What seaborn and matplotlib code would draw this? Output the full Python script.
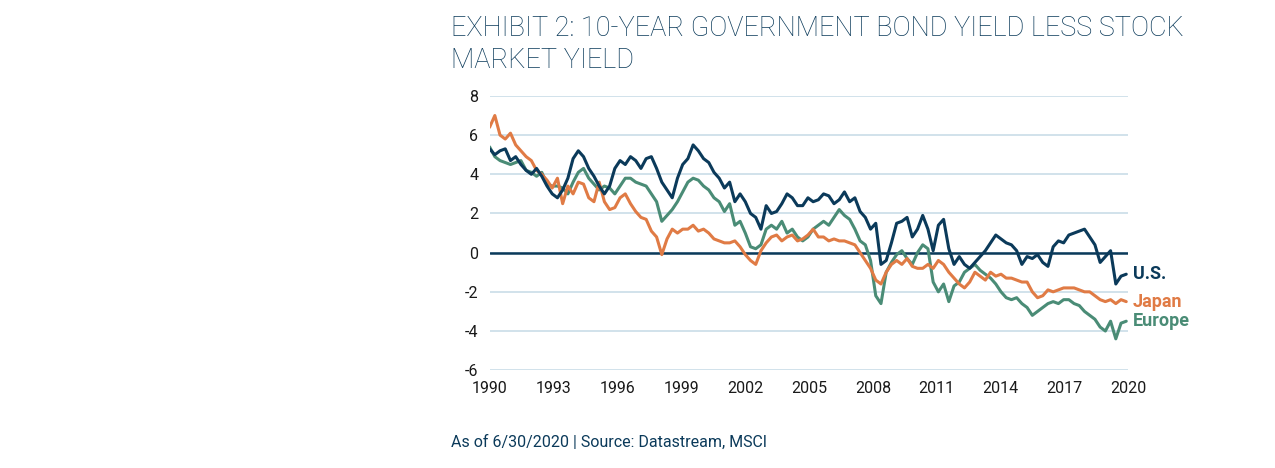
import numpy as np
import pandas as pd
import matplotlib
matplotlib.use("Agg")
import matplotlib.pyplot as plt
import seaborn as sns

# quarterly readings, 1990 .. mid-2020
us = [5.3, 5.0, 5.2, 5.3, 4.7, 4.9, 4.5, 4.2, 4.0, 4.3, 3.9, 3.4, 3.0, 2.8, 3.2, 3.8,
      4.8, 5.2, 4.9, 4.3, 3.9, 3.4, 3.0, 3.4, 4.3, 4.7, 4.5, 4.9, 4.7, 4.3, 4.8, 4.9,
      4.3, 3.6, 3.2, 2.8, 3.8, 4.5, 4.8, 5.5, 5.2, 4.8, 4.6, 4.1, 3.8, 3.3, 3.6, 2.6,
      3.0, 2.6, 2.0, 1.8, 1.2, 2.4, 2.0, 2.1, 2.5, 3.0, 2.8, 2.4, 2.4, 2.8, 2.6, 2.7,
      3.0, 2.9, 2.5, 2.7, 3.1, 2.6, 2.8, 2.1, 1.8, 1.2, 1.5, -0.6, -0.4, 0.5, 1.5, 1.6,
      1.8, 0.8, 1.2, 1.9, 1.2, 0.1, 1.4, 1.7, 0.2, -0.6, -0.2, -0.6, -0.8, -0.5, -0.2, 0.1,
      0.5, 0.9, 0.7, 0.5, 0.4, 0.1, -0.6, -0.2, -0.3, -0.1, -0.5, -0.7, 0.3, 0.6, 0.5, 0.9,
      1.0, 1.1, 1.2, 0.8, 0.4, -0.5, -0.2, 0.1, -1.6, -1.2, -1.1]
japan = [6.4, 7.0, 6.0, 5.8, 6.1, 5.5, 5.2, 4.9, 4.7, 4.2, 4.0, 3.7, 3.3, 3.8, 2.5, 3.4,
         3.0, 3.6, 3.5, 2.8, 2.6, 3.6, 2.6, 2.2, 2.3, 2.8, 3.0, 2.5, 2.1, 1.8, 1.7, 1.1,
         0.8, -0.1, 0.7, 1.2, 1.0, 1.2, 1.2, 1.4, 1.1, 1.2, 1.0, 0.7, 0.6, 0.5, 0.5, 0.6,
         0.3, -0.1, -0.4, -0.6, 0.1, 0.5, 0.8, 0.9, 0.6, 0.8, 0.9, 0.6, 0.7, 0.9, 1.2, 0.8,
         0.8, 0.6, 0.7, 0.6, 0.6, 0.5, 0.4, 0.0, -0.4, -0.8, -1.4, -1.6, -1.0, -0.6, -0.4, -0.6,
         -0.3, -0.7, -0.8, -0.8, -0.6, -0.8, -0.4, -0.6, -1.0, -1.3, -1.6, -1.8, -1.5, -1.0, -1.2, -1.4,
         -1.0, -1.2, -1.1, -1.3, -1.3, -1.4, -1.5, -1.5, -2.0, -2.3, -2.2, -1.9, -2.0, -1.9, -1.8, -1.8,
         -1.8, -1.9, -2.0, -2.0, -2.2, -2.4, -2.5, -2.4, -2.6, -2.4, -2.5]
europe = [5.4, 4.9, 4.7, 4.6, 4.5, 4.6, 4.7, 4.2, 4.1, 3.9, 4.1, 3.5, 3.4, 3.4, 3.3, 3.0,
          3.6, 4.1, 4.3, 3.8, 3.5, 3.2, 3.4, 3.3, 3.0, 3.4, 3.8, 3.8, 3.6, 3.5, 3.4, 3.0,
          2.6, 1.6, 1.9, 2.2, 2.6, 3.1, 3.6, 3.8, 3.7, 3.4, 3.2, 2.8, 2.6, 2.1, 2.5, 1.4,
          1.6, 1.0, 0.3, 0.2, 0.4, 1.2, 1.4, 1.2, 1.6, 1.0, 1.2, 0.8, 0.6, 0.8, 1.2, 1.4,
          1.6, 1.4, 1.8, 2.2, 1.9, 1.7, 1.2, 0.6, 0.4, -0.4, -2.2, -2.6, -1.0, -0.5, -0.1, 0.1,
          -0.3, -0.6, 0.0, 0.4, 0.2, -1.5, -2.0, -1.6, -2.5, -1.7, -1.5, -1.0, -0.8, -0.6, -0.9, -1.1,
          -1.3, -1.6, -2.0, -2.3, -2.4, -2.3, -2.6, -2.8, -3.2, -3.0, -2.8, -2.6, -2.5, -2.6, -2.4, -2.4,
          -2.6, -2.7, -3.0, -3.2, -3.4, -3.8, -4.0, -3.5, -4.4, -3.6, -3.5]

years = np.linspace(1990, 2019.9, len(us))
df = pd.DataFrame({"year": years, "U.S.": us, "Japan": japan, "Europe": europe})
long = df.melt(id_vars="year", var_name="region", value_name="spread")

navy = "#0b3a5a"
colors = {"U.S.": navy, "Japan": "#e07b45", "Europe": "#4a8c76"}

sns.set_style("white")
plt.rcParams["font.family"] = ["Roboto", "DejaVu Sans"]
plt.rcParams["axes.unicode_minus"] = False

fig = plt.figure(figsize=(12.75, 4.68), dpi=100)
ax = fig.add_axes([0.384, 0.209, 0.501, 0.586])

for y in range(-6, 9, 2):
    ax.axhline(y, color="#c9dde8", lw=1.2, zorder=0)
ax.axhline(0, color=navy, lw=1.8, zorder=1)

sns.lineplot(data=long, x="year", y="spread", hue="region", palette=colors,
             hue_order=["Europe", "Japan", "U.S."], lw=2.2, legend=False, ax=ax)

ax.set_xlim(1990, 2020)
ax.set_ylim(-6, 8)
ax.set_xticks(range(1990, 2021, 3))
ax.set_yticks(range(-6, 9, 2))
ax.tick_params(length=0, labelsize=11.5, colors="#1a1a1a", pad=8)
ax.set_xlabel("")
ax.set_ylabel("")
for s in ax.spines.values():
    s.set_visible(False)

for name in ["U.S.", "Japan", "Europe"]:
    ax.text(2020.2, df[name].iloc[-1], name, color=colors[name], fontsize=13,
            fontweight="bold", va="center", ha="left")

fig.text(0.354, 0.905, "EXHIBIT 2: 10-YEAR GOVERNMENT BOND YIELD LESS STOCK\nMARKET YIELD",
         color=navy, fontsize=19.5, fontweight="light", va="center", ha="left", linespacing=1.25)
fig.text(0.354, 0.055, "As of 6/30/2020 | Source: Datastream, MSCI", color=navy,
         fontsize=11.5, va="center", ha="left")

fig.savefig("out.png", dpi=100)
